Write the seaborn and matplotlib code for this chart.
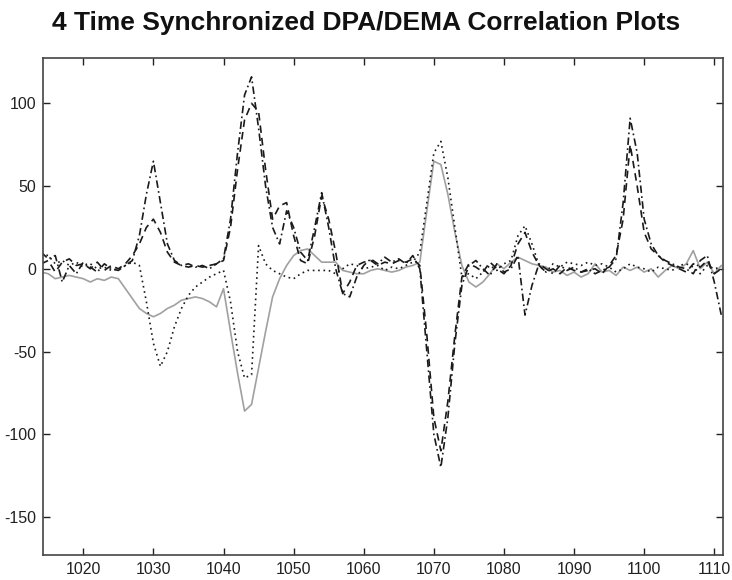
import numpy as np
import pandas as pd
import matplotlib
matplotlib.use("Agg")
import matplotlib.pyplot as plt
import seaborn as sns

x = list(range(1014, 1112))

solid = [-2, -3, -6, -5, -4, -5, -6, -8, -6, -7,
         -5, -6, -12, -18, -24, -27, -29, -27, -24, -22,
         -19, -18, -17, -18, -20, -23, -12, -38, -63, -86,
         -82, -60, -38, -17, -6, 2, 8, 11, 12, 8,
         4, 4, 4, -1, -2, -3, -3, -1, 0, -1,
         -2, -1, 1, 2, 4, 35, 65, 63, 45, 22,
         2, -8, -11, -8, -3, 3, 0, 4, 7, 5,
         3, 2, 1, -2, -1, -4, -2, -5, -3, 3,
         -2, -1, -4, 1, -1, 1, -2, 0, -5, -1,
         2, 0, 3, 11, 0, 4, -3, 2]

dotted = [9, 8, 3, 5, 2, 4, 1, 3, 0, 1,
          -1, 0, 2, 4, 2, -20, -45, -59, -50, -35,
          -24, -16, -11, -8, -5, -3, -1, -20, -50, -66,
          -64, 14, 3, -1, -3, -5, -6, -3, -1, -1,
          -1, -1, -3, 0, 3, 2, 0, 1, 2, -1,
          1, 0, 2, 4, 10, 40, 70, 77, 55, 25,
          -5, -3, -6, -2, 2, -1, 3, 5, 20, 26,
          15, 2, -2, 3, 1, 4, 3, 2, 4, 2,
          3, 1, -2, 0, 3, 1, 0, -2, 1, 0,
          -1, 2, 3, 1, -3, 2, 0, 1]

dashed = [3, 5, -2, 4, 6, 2, 3, 0, 4, -1,
          2, 0, 3, 8, 15, 25, 30, 22, 10, 4,
          2, 1, 2, 1, 2, 3, 5, 25, 60, 90,
          100, 95, 60, 30, 38, 40, 20, 5, 3, 20,
          44, 30, 10, -15, -8, 2, 4, 5, 2, 4,
          3, 5, 4, 6, 2, -40, -90, -110, -80, -40,
          -5, 3, 1, -2, 4, 0, -3, 2, 15, 22,
          10, 2, -2, 0, -3, 1, -1, -2, -1, 0,
          -3, 2, 8, 30, 75, 50, 22, 12, 8, 4,
          2, 0, -2, 3, 1, 5, -3, 0]

dashdot = [10, 6, 8, -8, 2, -3, 4, 1, -2, 3,
           0, -1, 2, 5, 20, 45, 65, 40, 15, 5,
           2, 3, 1, 2, 0, 3, 6, 30, 70, 105,
           116, 85, 50, 25, 15, 35, 25, 10, 5, 25,
           46, 25, 0, -15, -17, -5, 2, 6, 3, 7,
           4, 6, 3, 8, 0, -50, -100, -120, -90, -45,
           -10, 2, 5, 0, -4, 3, -2, 0, 8, -28,
           -10, 3, 0, -3, 2, -1, 1, -2, 0, -3,
           -1, 1, 6, 40, 91, 70, 30, 15, 8, 5,
           3, 1, 0, -3, 5, 8, -8, -28]

series_names = ["solid", "dotted", "dashed", "dashdot"]
xticks = [1020, 1030, 1040, 1050, 1060, 1070, 1080, 1090, 1100, 1110]
yticks = [-150, -100, -50, 0, 50, 100]
title = "4 Time Synchronized DPA/DEMA Correlation Plots"

df = pd.concat([
    pd.DataFrame({"x": x, "v": solid, "s": "solid"}),
    pd.DataFrame({"x": x, "v": dotted, "s": "dotted"}),
    pd.DataFrame({"x": x, "v": dashed, "s": "dashed"}),
    pd.DataFrame({"x": x, "v": dashdot, "s": "dashdot"}),
], ignore_index=True)

sns.set_style("ticks")
plt.rcParams["font.family"] = ["Liberation Sans", "DejaVu Sans"]
plt.rcParams["axes.unicode_minus"] = False

fig = plt.figure(figsize=(7.32, 5.80), dpi=100)
ax = fig.add_axes([0.0592, 0.0431, 0.9281, 0.8569])

palette = {"solid": "#a0a0a0", "dotted": "#1a1a1a", "dashed": "#1a1a1a", "dashdot": "#1a1a1a"}
dashes = {"solid": "", "dotted": (1, 2.2), "dashed": (4.5, 3), "dashdot": (4.5, 2, 1, 2)}

sns.lineplot(data=df, x="x", y="v", hue="s", style="s", palette=palette,
             dashes=dashes, hue_order=series_names, style_order=series_names,
             linewidth=1.2, legend=False, ax=ax, estimator=None, sort=False)

ax.set_xlim(1014.3, 1111.2)
ax.set_ylim(-173, 127.4)
ax.set_xticks(xticks)
ax.set_yticks(yticks)
ax.set_xlabel("")
ax.set_ylabel("")
ax.tick_params(direction="in", length=5, width=1, top=True, right=True,
               labelsize=11.5, colors="#222222", pad=5)
for sp in ax.spines.values():
    sp.set_visible(True)
    sp.set_linewidth(1.2)
    sp.set_color("#444444")

fig.text(0.5, 0.96, title, ha="center", va="center", fontsize=19,
         fontweight="bold", color="#111111")

fig.savefig("out.png", dpi=100)
